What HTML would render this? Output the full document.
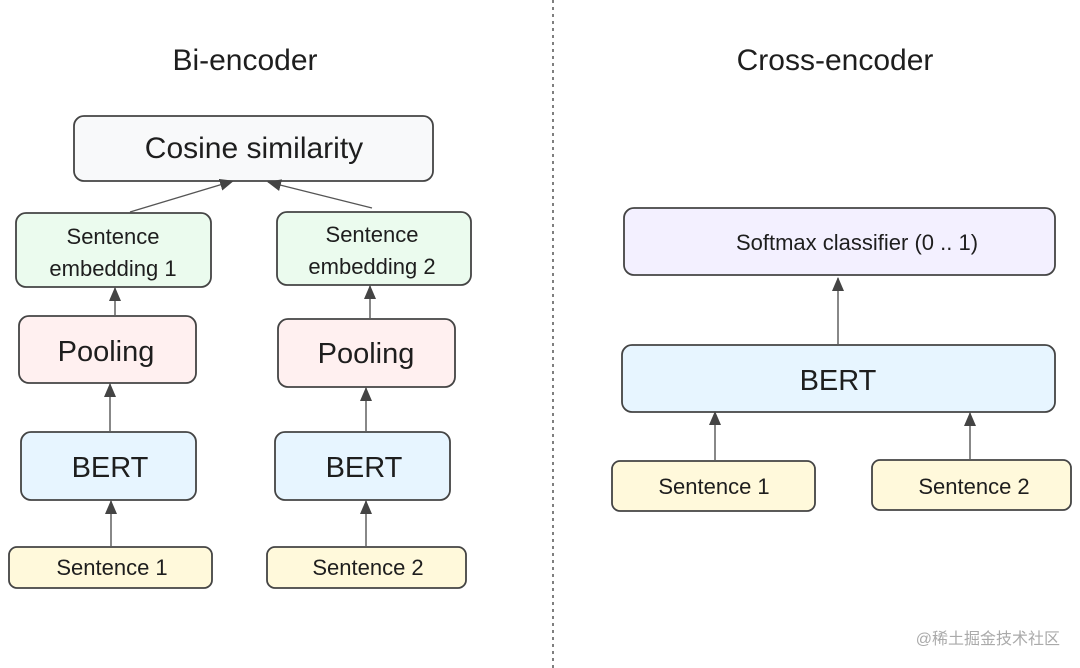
<!DOCTYPE html>
<html><head><meta charset="utf-8"><style>
html,body{margin:0;padding:0;background:#fff;width:1080px;height:668px;overflow:hidden}
svg text{font-family:"Comic Sans MS","Liberation Sans",sans-serif;fill:#1e1e1e}
</style></head><body>
<svg width="1080" height="668" viewBox="0 0 1080 668" xmlns="http://www.w3.org/2000/svg">
<defs><marker id="a" markerWidth="14" markerHeight="12" refX="13" refY="6" orient="auto" markerUnits="userSpaceOnUse"><path d="M0,0 L14,6 L0,12 z" fill="#444"/></marker></defs>
<line x1="553" y1="0" x2="553" y2="668" stroke="#555" stroke-width="1.5" stroke-dasharray="3,4"/>
<text x="245" y="70" font-size="30" text-anchor="middle">Bi-encoder</text>
<text x="835" y="70" font-size="30" text-anchor="middle">Cross-encoder</text>
<g stroke="#444" stroke-width="1.8">
<rect x="74" y="116" width="359" height="65" rx="10" fill="#f8f9fa"/>
<rect x="16" y="213" width="195" height="74" rx="10" fill="#ebfbee"/>
<rect x="277" y="212" width="194" height="73" rx="10" fill="#ebfbee"/>
<rect x="19" y="316" width="177" height="67" rx="10" fill="#fff0f0"/>
<rect x="278" y="319" width="177" height="68" rx="10" fill="#fff0f0"/>
<rect x="21" y="432" width="175" height="68" rx="10" fill="#e7f5ff"/>
<rect x="275" y="432" width="175" height="68" rx="10" fill="#e7f5ff"/>
<rect x="9" y="547" width="203" height="41" rx="8" fill="#fff9db"/>
<rect x="267" y="547" width="199" height="41" rx="8" fill="#fff9db"/>
<rect x="624" y="208" width="431" height="67" rx="10" fill="#f3f0ff"/>
<rect x="622" y="345" width="433" height="67" rx="10" fill="#e7f5ff"/>
<rect x="612" y="461" width="203" height="50" rx="8" fill="#fff9db"/>
<rect x="872" y="460" width="199" height="50" rx="8" fill="#fff9db"/>
</g>
<g stroke="#555" stroke-width="1.4" marker-end="url(#a)">
<line x1="130" y1="212" x2="233" y2="181"/>
<line x1="372" y1="208" x2="268" y2="182"/>
<line x1="115" y1="315" x2="115" y2="288"/>
<line x1="370" y1="318" x2="370" y2="286"/>
<line x1="110" y1="431" x2="110" y2="384"/>
<line x1="366" y1="431" x2="366" y2="388"/>
<line x1="111" y1="546" x2="111" y2="501"/>
<line x1="366" y1="546" x2="366" y2="501"/>
<line x1="838" y1="344" x2="838" y2="278"/>
<line x1="715" y1="460" x2="715" y2="412"/>
<line x1="970" y1="459" x2="970" y2="413"/>
</g>
<text x="254" y="158" font-size="30" text-anchor="middle">Cosine similarity</text>
<text x="113" y="244" font-size="22" text-anchor="middle">Sentence</text>
<text x="113" y="276" font-size="22" text-anchor="middle">embedding 1</text>
<text x="372" y="242" font-size="22" text-anchor="middle">Sentence</text>
<text x="372" y="274" font-size="22" text-anchor="middle">embedding 2</text>
<text x="106" y="361" font-size="29" text-anchor="middle">Pooling</text>
<text x="366" y="363" font-size="29" text-anchor="middle">Pooling</text>
<text x="110" y="477" font-size="29" text-anchor="middle">BERT</text>
<text x="364" y="477" font-size="29" text-anchor="middle">BERT</text>
<text x="112" y="575" font-size="22" text-anchor="middle">Sentence 1</text>
<text x="368" y="575" font-size="22" text-anchor="middle">Sentence 2</text>
<text x="857" y="250" font-size="22" text-anchor="middle">Softmax classifier (0 .. 1)</text>
<text x="838" y="390" font-size="29" text-anchor="middle">BERT</text>
<text x="714" y="494" font-size="22" text-anchor="middle">Sentence 1</text>
<text x="974" y="494" font-size="22" text-anchor="middle">Sentence 2</text>
<text x="1060" y="644" font-size="16" text-anchor="end" style="font-family:'Liberation Sans','Noto Sans CJK SC',sans-serif;fill:#aaa">@稀土掘金技术社区</text>
</svg>
</body></html>
